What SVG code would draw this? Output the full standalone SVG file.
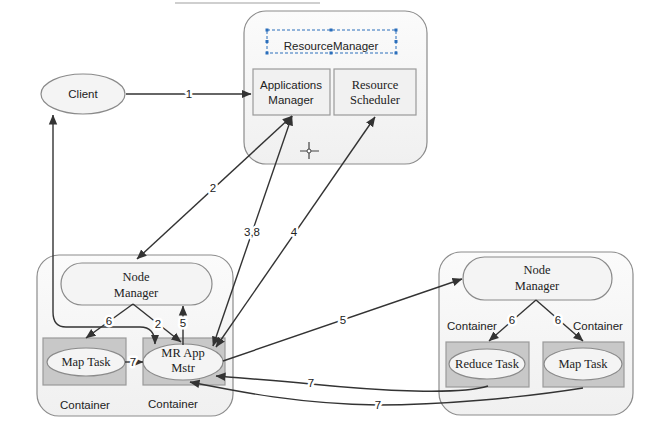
<svg xmlns="http://www.w3.org/2000/svg" width="665" height="448" viewBox="0 0 665 448">
<defs>
<linearGradient id="outerG" x1="0" y1="0" x2="0" y2="1"><stop offset="0" stop-color="#fbfbfb"/><stop offset="1" stop-color="#f0f0f0"/></linearGradient>
<marker id="ah" viewBox="0 0 10 10" refX="9.5" refY="5" markerWidth="10" markerHeight="10" markerUnits="userSpaceOnUse" orient="auto-start-reverse"><path d="M0,0.8 L10,5 L0,9.2 z" fill="#333"/></marker>
</defs>
<style>
.outer{fill:url(#outerG);stroke:#8c8c8c;stroke-width:1.2}
.inner{fill:#f1f1f1;stroke:#9a9a9a;stroke-width:1.2}
.cont{fill:#c8c8c8;stroke:#9a9a9a;stroke-width:1.2}
.ell{fill:#f4f4f4;stroke:#8a8a8a;stroke-width:1.2}
.sans{font-family:"Liberation Sans",Arial,sans-serif;font-size:11.5px;fill:#222;text-anchor:middle}
.serif{font-family:"Liberation Serif","Times New Roman",serif;font-size:12.5px;fill:#222;text-anchor:middle}
.ln{fill:none;stroke:#333;stroke-width:1.4}
.lbl{font-family:"Liberation Sans",Arial,sans-serif;font-size:11.5px;fill:#222;text-anchor:middle;stroke:#fff;stroke-width:5;stroke-linejoin:round;paint-order:stroke}
.h{fill:#2a6ebb}
</style>
<rect width="665" height="448" fill="#fff"/>
<path d="M175 3 L320 3" stroke="#cfcfcf" stroke-width="2"/>

<g id="resourcemanager">
<rect class="outer" x="244" y="11" width="183" height="153" rx="22"/>
<rect x="267" y="30" width="129" height="23" fill="none" stroke="#2a6ebb" stroke-width="1" stroke-dasharray="3,2"/>
<rect class="h" x="265.5" y="28.5" width="3" height="3"/><rect class="h" x="329.5" y="28.5" width="3" height="3"/><rect class="h" x="394.5" y="28.5" width="3" height="3"/>
<rect class="h" x="265.5" y="51.5" width="3" height="3"/><rect class="h" x="329.5" y="51.5" width="3" height="3"/><rect class="h" x="394.5" y="51.5" width="3" height="3"/>
<rect class="h" x="265.5" y="40" width="3" height="3"/><rect class="h" x="394.5" y="40" width="3" height="3"/>
<text class="sans" x="331" y="50">ResourceManager</text>
<path d="M300 151 L319 151 M309 142 L309 159" stroke="#444" stroke-width="1.2"/>
<circle cx="309" cy="151" r="2" fill="#fff" stroke="#444" stroke-width="1"/>
</g>
<g id="applications-manager">
<rect class="inner" x="253" y="69" width="77" height="46"/>
<text class="sans" x="291" y="89">Applications</text>
<text class="sans" x="291" y="104">Manager</text>
</g>
<g id="resource-scheduler">
<rect class="inner" x="334" y="69" width="82" height="46"/>
<text class="serif" x="375" y="89">Resource</text>
<text class="serif" x="375" y="104">Scheduler</text>
</g>
<g id="client">
<ellipse class="ell" cx="83" cy="94" rx="42" ry="20"/>
<text class="sans" x="83" y="98">Client</text>
</g>

<g id="node-left">
<rect class="outer" x="37" y="255" width="196" height="161" rx="22"/>
<text class="sans" x="85" y="409">Container</text>
<text class="sans" x="173" y="408">Container</text>
</g>
<g id="nodemanager-left">
<rect class="ell" x="61" y="263" width="151" height="42" rx="21"/>
<text class="serif" x="136" y="281">Node</text>
<text class="serif" x="136" y="297">Manager</text>
</g>
<g id="maptask-left">
<rect class="cont" x="43" y="338" width="83" height="47"/>
<ellipse class="ell" cx="86" cy="362" rx="39" ry="14"/>
<text class="serif" x="86" y="366">Map Task</text>
</g>
<g id="mrappmstr">
<rect class="cont" x="143" y="338" width="82" height="47"/>
<ellipse class="ell" cx="183" cy="362" rx="40" ry="18"/>
<text class="serif" x="183" y="357">MR App</text>
<text class="serif" x="183" y="372">Mstr</text>
</g>

<g id="node-right">
<rect class="outer" x="439" y="252" width="194" height="163" rx="22"/>
<text class="sans" x="472" y="330">Container</text>
<text class="sans" x="598" y="330">Container</text>
</g>
<g id="nodemanager-right">
<rect class="ell" x="463" y="257" width="149" height="43" rx="21.5"/>
<text class="serif" x="537" y="274">Node</text>
<text class="serif" x="537" y="290">Manager</text>
</g>
<g id="reducetask">
<rect class="cont" x="446" y="342" width="83" height="45"/>
<ellipse class="ell" cx="487" cy="364" rx="38" ry="15"/>
<text class="serif" x="487" y="368">Reduce Task</text>
</g>
<g id="maptask-right">
<rect class="cont" x="543" y="342" width="81" height="45"/>
<ellipse class="ell" cx="583" cy="364" rx="39" ry="16"/>
<text class="serif" x="583" y="368">Map Task</text>
</g>

<g id="connectors">
<path class="ln" d="M126 94 L251 94" marker-end="url(#ah)"/>
<text class="lbl" x="189" y="98">1</text>
<path class="ln" d="M155 344 C155 332 150 327 140 327 L66 327 C58 327 53 322 53 312 L53 115" marker-start="url(#ah)" marker-end="url(#ah)"/>
<path class="ln" d="M292 116 L137 259" marker-start="url(#ah)" marker-end="url(#ah)"/>
<text class="lbl" x="213" y="192">2</text>
<path class="ln" d="M292 116 L213 346" marker-start="url(#ah)" marker-end="url(#ah)"/>
<text class="lbl" x="252" y="236">3,8</text>
<path class="ln" d="M375 117 L216 347" marker-start="url(#ah)" marker-end="url(#ah)"/>
<text class="lbl" x="294" y="236">4</text>
<path class="ln" d="M133 304 L86 338" marker-end="url(#ah)"/>
<text class="lbl" x="109" y="325">6</text>
<path class="ln" d="M133 304 L181 342" marker-end="url(#ah)"/>
<text class="lbl" x="158" y="328">2</text>
<path class="ln" d="M183 345 L183 306" marker-end="url(#ah)"/>
<text class="lbl" x="183" y="327">5</text>
<path class="ln" d="M125 362 L143 362" marker-end="url(#ah)"/>
<text class="lbl" x="133" y="366">7</text>
<path class="ln" d="M223 361 L462 279" marker-end="url(#ah)"/>
<text class="lbl" x="343" y="324">5</text>
<path class="ln" d="M536 300 L489 341" marker-end="url(#ah)"/>
<text class="lbl" x="512" y="324">6</text>
<path class="ln" d="M536 300 L583 341" marker-end="url(#ah)"/>
<text class="lbl" x="558" y="324">6</text>
<path class="ln" d="M488 386 C460 395 380 391 311 384 C270 380 240 378 216 376" marker-end="url(#ah)"/>
<text class="lbl" x="311" y="387">7</text>
<path class="ln" d="M583 388 C520 398 440 405 378 405 C300 404 240 392 190 382" marker-end="url(#ah)"/>
<text class="lbl" x="378" y="409">7</text>
</g>
</svg>
